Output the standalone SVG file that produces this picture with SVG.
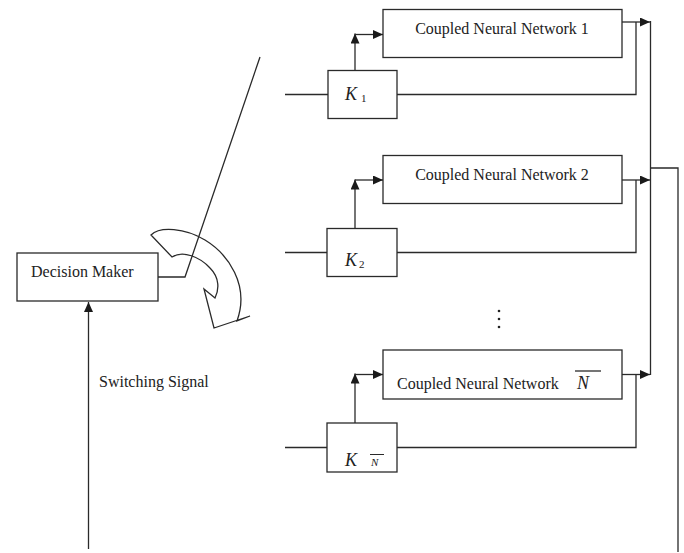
<svg xmlns="http://www.w3.org/2000/svg" width="684" height="553" viewBox="0 0 684 553">
<style>
.box{fill:none;stroke:#2a2a2a;stroke-width:1.3}
.ln{fill:none;stroke:#2a2a2a;stroke-width:1.3}
.t{font-family:"Liberation Serif","Times New Roman",serif;font-size:16px;fill:#222}
.k{font-family:"Liberation Serif","Times New Roman",serif;font-style:italic;font-size:18px;fill:#222}
.s{font-family:"Liberation Serif","Times New Roman",serif;font-size:11px;fill:#222}
</style>
<defs>
<marker id="ah" markerUnits="userSpaceOnUse" markerWidth="11" markerHeight="9" refX="10" refY="4.5" orient="auto">
<path d="M0,0 L10,4.5 L0,9 Z" fill="#1a1a1a"/>
</marker>
</defs>
<rect width="684" height="553" fill="#fff"/>

<g id="decision-maker">
<rect class="box" x="17" y="253" width="141" height="48"/>
<text class="t" x="31" y="277">Decision Maker</text>
</g>

<g id="switch">
<path class="ln" d="M158,277 L185,277 L260,57"/>
<path class="ln" d="M151,235 C160,226 185,228 205,240 C228,254 250,285 237,321 L250,316 L214,328 L204,289 L215,298 C219,290 220,278 210,268 C200,257 183,250 172,257 Z"/>
</g>

<g id="cnn1">
<rect class="box" x="383" y="9.5" width="239" height="48"/>
<text class="t" x="502" y="34" text-anchor="middle">Coupled Neural Network 1</text>
</g>
<g id="k1">
<rect class="box" x="328" y="70.5" width="69" height="48"/>
<text class="k" x="345" y="100">K</text>
<text class="s" x="361" y="102">1</text>
</g>

<g id="cnn2">
<rect class="box" x="383" y="155.5" width="239" height="48"/>
<text class="t" x="502" y="180" text-anchor="middle">Coupled Neural Network 2</text>
</g>
<g id="k2">
<rect class="box" x="327" y="228.5" width="70" height="48"/>
<text class="k" x="345" y="266">K</text>
<text class="s" x="359" y="268">2</text>
</g>

<g id="dots">
<circle cx="499" cy="311" r="1.3" fill="#222"/>
<circle cx="499" cy="319" r="1.3" fill="#222"/>
<circle cx="499" cy="327" r="1.3" fill="#222"/>
</g>

<g id="cnnN">
<rect class="box" x="383" y="350" width="239" height="49"/>
<text class="t" x="397" y="389">Coupled Neural Network</text>
<text class="k" x="577" y="389">N</text>
<line class="ln" x1="575" y1="371" x2="601" y2="371"/>
</g>
<g id="kN">
<rect class="box" x="327" y="423" width="70" height="49"/>
<text class="k" x="345" y="466">K</text>
<text class="s" x="371" y="466" font-style="italic">N</text>
<line x1="370" y1="454.5" x2="384" y2="454.5" stroke="#2a2a2a" stroke-width="1"/>
</g>

<g id="switching-label">
<text class="t" x="99" y="387">Switching Signal</text>
</g>

<g id="connectors">
<line class="ln" x1="88.5" y1="549" x2="88.5" y2="302" marker-end="url(#ah)"/>

<line class="ln" x1="285" y1="94.5" x2="328" y2="94.5"/>
<line class="ln" x1="355" y1="70.5" x2="355" y2="33.5" marker-end="url(#ah)"/>
<line class="ln" x1="355" y1="34.5" x2="383" y2="34.5" marker-end="url(#ah)"/>
<path class="ln" d="M397,94.5 L636,94.5 L636,22"/>
<line class="ln" x1="622" y1="22" x2="650" y2="22" marker-end="url(#ah)"/>

<line class="ln" x1="285" y1="252.5" x2="327" y2="252.5"/>
<line class="ln" x1="355" y1="228.5" x2="355" y2="179.5" marker-end="url(#ah)"/>
<line class="ln" x1="355" y1="180" x2="383" y2="180" marker-end="url(#ah)"/>
<path class="ln" d="M397,252.5 L636,252.5 L636,180"/>
<line class="ln" x1="622" y1="180" x2="650" y2="180" marker-end="url(#ah)"/>

<line class="ln" x1="285" y1="447.5" x2="327" y2="447.5"/>
<line class="ln" x1="355" y1="423" x2="355" y2="373.5" marker-end="url(#ah)"/>
<line class="ln" x1="355" y1="374.5" x2="383" y2="374.5" marker-end="url(#ah)"/>
<path class="ln" d="M397,447.5 L636,447.5 L636,374.5"/>
<line class="ln" x1="622" y1="374.5" x2="650" y2="374.5" marker-end="url(#ah)"/>

<line class="ln" x1="650.5" y1="21" x2="650.5" y2="375"/>
<path class="ln" d="M650.5,168 L678,168 L678,552"/>
</g>
</svg>
